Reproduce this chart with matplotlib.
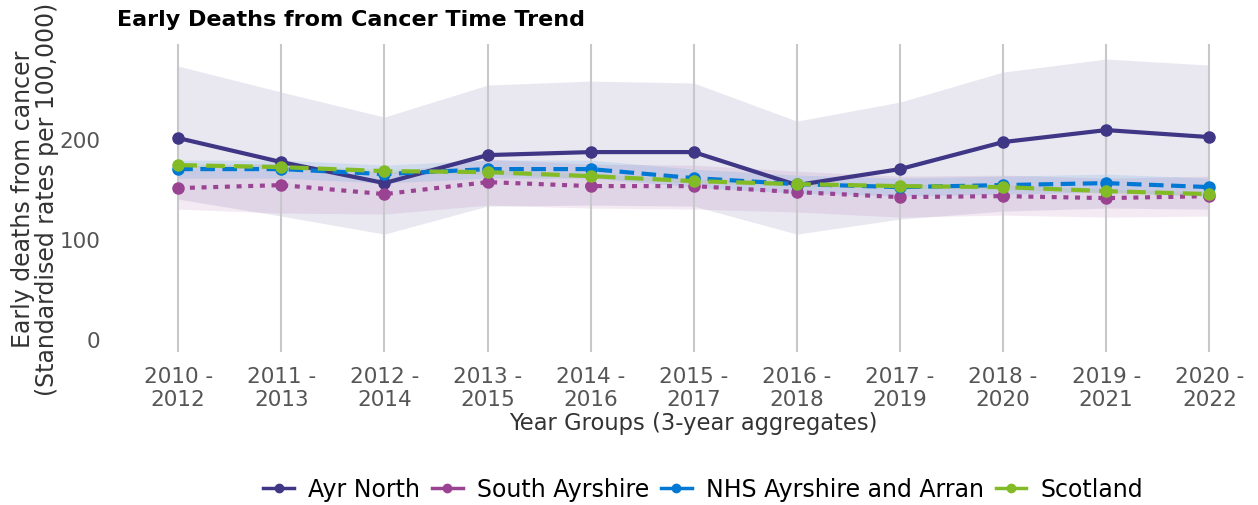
import matplotlib
matplotlib.use('Agg')
import matplotlib.pyplot as plt
from matplotlib.lines import Line2D

years = ['2010 -\n2012', '2011 -\n2013', '2012 -\n2014', '2013 -\n2015', '2014 -\n2016',
         '2015 -\n2017', '2016 -\n2018', '2017 -\n2019', '2018 -\n2020', '2019 -\n2021',
         '2020 -\n2022']

ayr_north = [201, 177, 156, 184, 187, 187, 154, 170, 197, 209, 202]
ayr_north_upper = [273, 247, 222, 254, 258, 256, 218, 237, 267, 280, 274]
ayr_north_lower = [140, 123, 105, 133, 134, 133, 105, 120, 128, 131, 130]

south_ayrshire = [151, 154, 145, 157, 153, 153, 147, 142, 143, 141, 143]
south_ayrshire_upper = [173, 176, 166, 180, 175, 174, 168, 163, 164, 161, 163]
south_ayrshire_lower = [130, 126, 125, 134, 131, 130, 127, 122, 124, 122, 123]

nhs_aa = [170, 170, 165, 170, 170, 161, 155, 152, 154, 156, 152]
nhs_aa_upper = [179, 179, 174, 179, 179, 170, 164, 161, 163, 165, 161]
nhs_aa_lower = [161, 161, 156, 161, 161, 152, 146, 143, 145, 147, 143]

scotland = [174, 172, 168, 167, 163, 158, 155, 153, 152, 148, 145]
scotland_upper = [176, 174, 170, 169, 165, 160, 157, 155, 154, 150, 147]
scotland_lower = [172, 170, 166, 165, 161, 156, 153, 151, 150, 146, 143]

series = [
    ('Ayr North', ayr_north, ayr_north_lower, ayr_north_upper, '#3F3685', '-'),
    ('South Ayrshire', south_ayrshire, south_ayrshire_lower, south_ayrshire_upper, '#9B4393', (0, (1.2, 1.6))),
    ('NHS Ayrshire and Arran', nhs_aa, nhs_aa_lower, nhs_aa_upper, '#0078D4', (0, (3.5, 1.8))),
    ('Scotland', scotland, scotland_lower, scotland_upper, '#83BB26', (0, (4.5, 2.2))),
]

fig = plt.figure(figsize=(12.58, 5.06), dpi=100)
ax = fig.add_axes([0.113, 0.302, 0.877, 0.609])

x = list(range(len(years)))
for name, vals, lo, hi, col, ls in series:
    ax.fill_between(x, lo, hi, color=col, alpha=0.11, linewidth=0)
for name, vals, lo, hi, col, ls in series:
    ax.plot(x, vals, color=col, linestyle=ls, linewidth=3, marker='o', markersize=8)

ax.set_xlim(-0.35, 10.35)
ax.set_ylim(-13, 295)
ax.set_xticks(x)
ax.set_xticklabels(years)
ax.set_yticks([0, 100, 200])
ax.tick_params(axis='x', length=0, labelsize=15.5, labelcolor='#555555', pad=10)
ax.tick_params(axis='y', length=0, labelsize=15.5, labelcolor='#555555', pad=30)
ax.grid(axis='x', color='#c8c8cc', linewidth=1.5)
for s in ax.spines.values():
    s.set_visible(False)

ax.set_xlabel('Year Groups (3-year aggregates)', fontsize=16.3, color='#333333', labelpad=1)
ax.set_ylabel('Early deaths from cancer\n(Standardised rates per 100,000)', fontsize=17,
              color='#333333', labelpad=0, linespacing=1.0)

fig.text(0.093, 0.96, 'Early Deaths from Cancer Time Trend', fontsize=16, fontweight='bold',
         ha='left', va='center')

# legend keys are plain line + dot in the original
handles = [Line2D([], [], color=s[4], linewidth=2.5, marker='o', markersize=6) for s in series]
labels = [s[0] for s in series]
ax.legend(handles, labels, loc='center', bbox_to_anchor=(0.559, 0.032),
          bbox_transform=fig.transFigure, ncol=4, frameon=False, fontsize=17,
          handlelength=1.3, handletextpad=0.6, columnspacing=0.5)

fig.savefig('out.png', dpi=100)
